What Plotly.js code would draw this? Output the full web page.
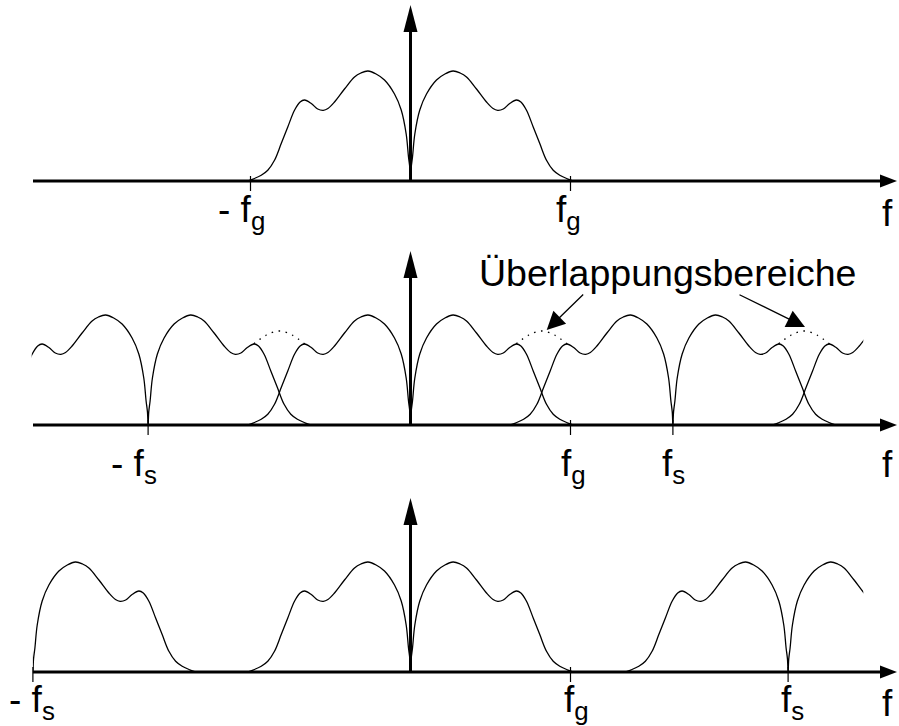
<!DOCTYPE html>
<html>
<head>
<meta charset="utf-8">
<script src="https://cdn.plot.ly/plotly-3.0.1.min.js"></script>
<style>
  html, body { margin: 0; padding: 0; background: #fff; }
  #chart { width: 899px; height: 726px; }
</style>
</head>
<body>
<div id="chart"></div>
<script>
// One-sided magnitude spectrum of the band-limited signal.
// Frequency in units of the band limit f_g, magnitude in drawing units.
const specF = [0, 0.004, 0.0125, 0.027, 0.058, 0.1, 0.1625, 0.215, 0.266, 0.31, 0.35, 0.4125,
               0.475, 0.516, 0.545, 0.58, 0.62, 0.6625, 0.69, 0.725, 0.767, 0.808, 0.85, 0.892, 0.933, 0.98, 1.02];
const specA = [0, 13, 24, 47, 71, 87, 101, 107, 110, 108, 104, 92,
               79, 72.5, 70.7, 72, 77.5, 81, 79, 70.7, 54, 37.4, 20.7, 10.7, 5.7, 2.2, 0];

// Sampling frequencies in units of f_g
const fsAliased = 1.64;   // middle: f_s < 2 f_g, spectra overlap
const fsProper = 2.36;    // bottom: f_s > 2 f_g, no overlap

// Spectral copies (multiples of f_s) shown in each sampled spectrum
const copiesAliased = [-1, 0, 1, 2];
const copiesProper = [-1, 0, 1];

// Dotted summed spectrum across an overlap region, relative to its centre
const overlapU = [-0.16, -0.08, 0, 0.08, 0.16];
const overlapA = [81, 90, 94, 90, 81];
const overlapCentres = [-0.5, 0.5, 1.5];   // multiples of f_s

// Axis tick labels
const ticks1 = [-1, 1];
const tickText1 = ['- f<sub>g</sub>', 'f<sub>g</sub>'];
const ticks2 = [-fsAliased, 1, fsAliased];
const tickText2 = ['- f<sub>s</sub>', 'f<sub>g</sub>', 'f<sub>s</sub>'];
const ticks3 = [-fsProper, 1, fsProper];
const tickText3 = ['- f<sub>s</sub>', 'f<sub>g</sub>', 'f<sub>s</sub>'];
const axisName = 'f';
const overlapLabel = 'Überlappungsbereiche';

// ---- geometry ----
const W = 899, H = 726;
const ZERO_PX = 410.5, PX_PER_FG = 160;
const fpx = px => (px - ZERO_PX) / PX_PER_FG;
const dom = f => (ZERO_PX + f * PX_PER_FG) / W;
const X_RANGE = [fpx(0), fpx(W)];
const AXIS_TIP = fpx(897);
const CURVE_END = fpx(863.3);

// two-sided spectrum built from the one-sided half
const fullF = specF.slice(1).map(v => -v).reverse().concat(specF);
const fullA = specA.slice(1).reverse().concat(specA);

const curveLine = { color: '#000', width: 1.3, shape: 'spline', smoothing: 1 };
const traces = [];

// top: original spectrum
traces.push({ x: fullF, y: fullA, xaxis: 'x', yaxis: 'y', mode: 'lines',
              line: curveLine, hoverinfo: 'skip' });

// middle: periodic copies with overlap
copiesAliased.forEach(k => {
  traces.push({ x: fullF.map(v => v + k * fsAliased), y: fullA, xaxis: 'x4', yaxis: 'y4',
                mode: 'lines', line: curveLine, hoverinfo: 'skip' });
});
overlapCentres.forEach(c => {
  traces.push({ x: overlapU.map(u => u + c * fsAliased), y: overlapA, xaxis: 'x4', yaxis: 'y4',
                mode: 'lines', hoverinfo: 'skip',
                line: { color: '#000', width: 1.3, shape: 'spline', dash: '1.6px,5.5px' } });
});

// bottom: periodic copies without overlap
copiesProper.forEach(k => {
  traces.push({ x: fullF.map(v => v + k * fsProper), y: fullA, xaxis: 'x5', yaxis: 'y5',
                mode: 'lines', line: curveLine, hoverinfo: 'skip' });
});

// ---- axes drawn as shapes ----
const panels = [
  { xr: 'x',  yr: 'y',  start: fpx(33),    tipY: 176, ticks: ticks1, text: tickText1,
    labelY: -5.6, nameY: -10, dx: [-9, -2] },
  { xr: 'x2', yr: 'y2', start: fpx(33),    tipY: 174, ticks: ticks2, text: tickText2,
    labelY: -15.6, nameY: -16.6, dx: [-14, 3, 1] },
  { xr: 'x3', yr: 'y3', start: -fsProper,  tipY: 174, ticks: ticks3, text: tickText3,
    labelY: -5, nameY: -9, dx: [-1, 6, 4] }
];

const shapes = [];
const annotations = [];
const labelFont = { family: 'Liberation Sans, Arial, Helvetica, sans-serif', size: 37, color: '#000' };

panels.forEach(p => {
  // horizontal frequency axis
  shapes.push({ type: 'line', xref: p.xr, yref: p.yr, x0: p.start, x1: AXIS_TIP - 14 / PX_PER_FG,
                y0: 0, y1: 0, line: { color: '#000', width: 3 } });
  shapes.push({ type: 'path', xref: p.xr, yref: p.yr, xsizemode: 'pixel', ysizemode: 'pixel',
                xanchor: AXIS_TIP, yanchor: 0, path: 'M0,0L-17,6.5L-17,-6.5Z',
                fillcolor: '#000', line: { width: 0 } });
  // vertical magnitude axis
  shapes.push({ type: 'line', xref: p.xr, yref: p.yr, x0: 0, x1: 0, y0: 0, y1: p.tipY - 24,
                line: { color: '#000', width: 3 } });
  shapes.push({ type: 'path', xref: p.xr, yref: p.yr, xsizemode: 'pixel', ysizemode: 'pixel',
                xanchor: 0, yanchor: p.tipY, path: 'M0,0L-7,-27L7,-27Z',
                fillcolor: '#000', line: { width: 0 } });
  // ticks and their labels
  p.ticks.forEach((t, i) => {
    shapes.push({ type: 'line', xref: p.xr, yref: p.yr, x0: t, x1: t, y0: 5, y1: -10,
                  line: { color: '#000', width: 1.2 } });
    annotations.push({ xref: p.xr, yref: p.yr, x: t, y: p.labelY, xanchor: 'center', yanchor: 'top',
                       xshift: p.dx[i], text: p.text[i], showarrow: false, font: labelFont });
  });
  annotations.push({ xref: p.xr, yref: p.yr, x: fpx(887), y: p.nameY, xanchor: 'center', yanchor: 'top',
                     text: axisName, showarrow: false, font: labelFont });
});

// overlap label with its two pointers
annotations.push({ xref: 'x2', yref: 'y2', x: fpx(667.5), y: 129.4, xanchor: 'center', yanchor: 'bottom',
                   text: overlapLabel, showarrow: false,
                   font: { family: 'Liberation Sans, Arial, Helvetica, sans-serif', size: 37.5, color: '#000' } });
annotations.push({ xref: 'x2', yref: 'y2', x: fpx(546.7), y: 95, ax: 38, ay: -37, text: '',
                   showarrow: true, arrowhead: 2, arrowsize: 2.8, arrowwidth: 1.3, arrowcolor: '#000', standoff: 0 });
annotations.push({ xref: 'x2', yref: 'y2', x: fpx(805), y: 98, ax: -67, ay: -33, text: '',
                   showarrow: true, arrowhead: 2, arrowsize: 2.8, arrowwidth: 1.3, arrowcolor: '#000', standoff: 0 });

const hidden = { visible: false, fixedrange: true };
const layout = {
  width: W, height: H,
  margin: { l: 0, r: 0, t: 0, b: 0, pad: 0 },
  paper_bgcolor: '#fff', plot_bgcolor: 'rgba(0,0,0,0)',
  showlegend: false,
  xaxis:  Object.assign({ domain: [0, 1], range: X_RANGE, anchor: 'y' }, hidden),
  yaxis:  Object.assign({ domain: [2 / 3, 1], range: [-61, 181], anchor: 'x' }, hidden),
  xaxis2: Object.assign({ domain: [0, 1], range: X_RANGE, anchor: 'y2' }, hidden),
  yaxis2: Object.assign({ domain: [1 / 3, 2 / 3], range: [-59, 183], anchor: 'x2' }, hidden),
  xaxis3: Object.assign({ domain: [0, 1], range: X_RANGE, anchor: 'y3' }, hidden),
  yaxis3: Object.assign({ domain: [0, 1 / 3], range: [-54, 188], anchor: 'x3' }, hidden),
  // clipped drawing windows for the periodic spectra
  xaxis4: Object.assign({ domain: [dom(fpx(31.7)), dom(CURVE_END)], range: [fpx(31.7), CURVE_END], anchor: 'y4' }, hidden),
  yaxis4: Object.assign({ domain: [1 / 3, 2 / 3], range: [-59, 183], anchor: 'x4' }, hidden),
  xaxis5: Object.assign({ domain: [dom(-fsProper), dom(CURVE_END)], range: [-fsProper, CURVE_END], anchor: 'y5' }, hidden),
  yaxis5: Object.assign({ domain: [0, 1 / 3], range: [-54, 188], anchor: 'x5' }, hidden),
  shapes: shapes,
  annotations: annotations
};

Plotly.newPlot('chart', traces, layout, { displayModeBar: false, staticPlot: true });
</script>
</body>
</html>
